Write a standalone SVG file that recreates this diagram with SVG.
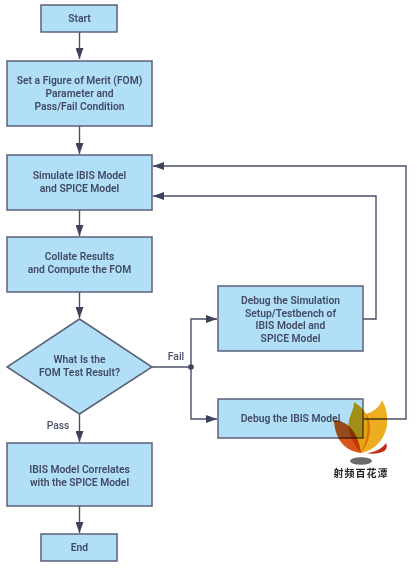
<svg xmlns="http://www.w3.org/2000/svg" width="417" height="568" viewBox="0 0 417 568">
<style>
.n{fill:#b1dff7;stroke:#5b6078;stroke-width:1.5}
.t{font-family:Roboto,"Liberation Sans",sans-serif;font-size:10.300px;font-weight:600;fill:#434a63;text-anchor:middle}
.l{font-family:Roboto,"Liberation Sans",sans-serif;font-size:10.300px;font-weight:500;fill:#4a5068;text-anchor:middle}
.c{fill:none;stroke:#4a4f68;stroke-width:1.4}
.f{mix-blend-mode:multiply}
</style>
<defs><marker id="a" markerUnits="userSpaceOnUse" markerWidth="12" markerHeight="8" refX="11" refY="4" orient="auto"><path d="M0 0L11 4L0 8z" fill="#3d415c"/></marker></defs>
<rect width="417" height="568" fill="#fff"/>
<g id="connectors">
<path class="c" d="M79.500 32V59" marker-end="url(#a)"/>
<path class="c" d="M79.500 126V154" marker-end="url(#a)"/>
<path class="c" d="M79.500 210V236" marker-end="url(#a)"/>
<path class="c" d="M79.500 292V318" marker-end="url(#a)"/>
<path class="c" d="M79.500 414V442" marker-end="url(#a)"/>
<path class="c" d="M79.500 506V533" marker-end="url(#a)"/>
<path class="c" d="M152 367H191"/>
<path class="c" d="M191 367V319H217" marker-end="url(#a)"/>
<path class="c" d="M191 367V419H217" marker-end="url(#a)"/>
<circle cx="191" cy="367" r="2.800" fill="#3d415c"/>
<path class="c" d="M363 319H376V196H153" marker-end="url(#a)"/>
<path class="c" d="M363 419H406V166H153" marker-end="url(#a)"/>
</g>
<g id="start"><rect class="n" x="41" y="5" width="76" height="27"/><text class="t" x="79.500" y="22">Start</text></g>
<g id="fom"><rect class="n" x="7" y="61" width="145" height="65"/><text class="t" x="79.500" y="84">Set a Figure of Merit (FOM)</text><text class="t" x="79.500" y="97">Parameter and</text><text class="t" x="79.500" y="110">Pass/Fail Condition</text></g>
<g id="simulate"><rect class="n" x="7" y="155" width="145" height="55"/><text class="t" x="79.500" y="179">Simulate IBIS Model</text><text class="t" x="79.500" y="192">and SPICE Model</text></g>
<g id="collate"><rect class="n" x="7" y="237" width="145" height="55"/><text class="t" x="79.500" y="260">Collate Results</text><text class="t" x="79.500" y="273">and Compute the FOM</text></g>
<g id="decision"><path class="n" d="M79.500 319L152 367L79.500 414L7 367z"/><text class="t" x="79.500" y="363">What Is the</text><text class="t" x="79.500" y="376">FOM Test Result?</text></g>
<g id="correlates"><rect class="n" x="7" y="443" width="145" height="63"/><text class="t" x="79.500" y="473">IBIS Model Correlates</text><text class="t" x="79.500" y="486">with the SPICE Model</text></g>
<g id="end"><rect class="n" x="41" y="534" width="76" height="27"/><text class="t" x="79.500" y="551">End</text></g>
<g id="debug1"><rect class="n" x="218" y="286" width="145" height="65"/><text class="t" x="290.500" y="304">Debug the Simulation</text><text class="t" x="290.500" y="317">Setup/Testbench of</text><text class="t" x="290.500" y="329">IBIS Model and</text><text class="t" x="290.500" y="342">SPICE Model</text></g>
<g id="debug2"><rect class="n" x="218" y="399" width="145" height="39"/><text class="t" x="290.500" y="422">Debug the IBIS Model</text></g>
<text class="l" x="176" y="360">Fail</text>
<text class="l" x="58" y="429">Pass</text>
<g id="logo">
<path class="f" d="M361 453C352 443 347 431 349 421C350 414 354 410 354 402C364 408 370 417 370 428C370 438 366 447 361 453z" fill="#e6a414"/>
<path class="f" d="M361 453C368 440 369 425 366 414C373 412 380 407 382 400C386 407 388 416 387 425C385 440 373 451 361 453z" fill="#ecae20"/>
<path class="f" d="M361 453C345 451 335 440 334 420C348 421 358 432 361 453z" fill="#d9561a"/>
<path d="M367 453C376 452 383 448 386 443C388 447 386 451 382 452C377 454 371 454 367 453z" fill="#c3281c"/>
<ellipse cx="361" cy="461" rx="11" ry="3.800" fill="#6a6a6a"/>
<text x="361" y="477" font-family="'Noto Sans CJK SC',sans-serif" font-size="10" font-weight="700" letter-spacing="1" fill="#222" text-anchor="middle">射频百花潭</text>
</g>
</svg>
